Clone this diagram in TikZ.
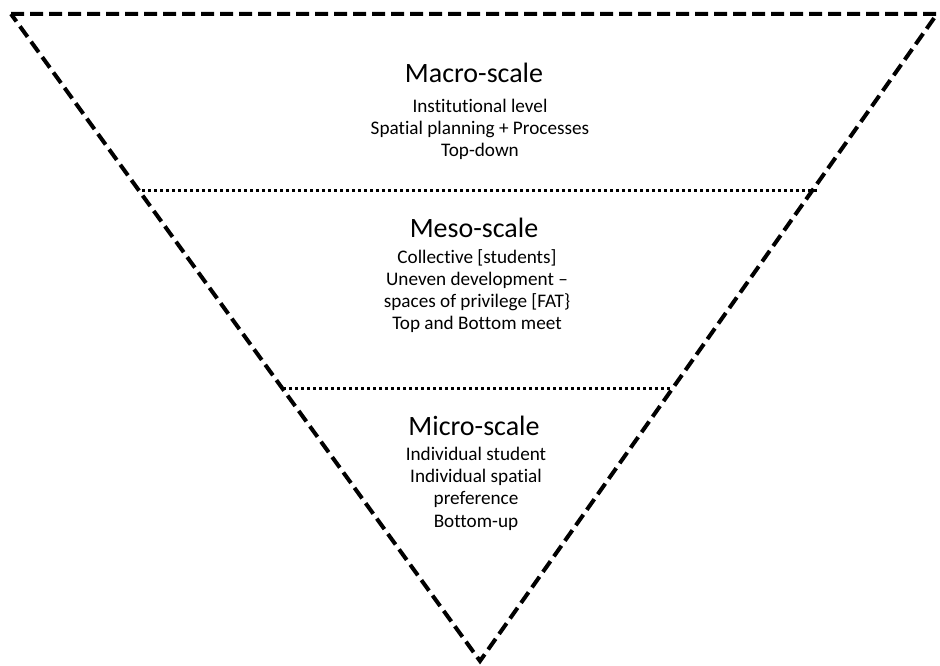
\documentclass[tikz,border=0pt]{standalone}
\usepackage{fontspec}
\setmainfont[Ligatures=NoCommon]{Carlito}
\begin{document}
\begin{tikzpicture}[x=1pt,y=-1pt,
  edge/.style={line width=4pt,dash pattern=on 13pt off 6pt},
  divider/.style={line width=3pt,dash pattern=on 3pt off 3pt},
  title/.style={font=\fontsize{28}{32}\selectfont,anchor=base},
  body/.style={font=\fontsize{19.2}{22.2}\selectfont,align=center,anchor=north,inner sep=0pt}]
\useasboundingbox (0,0) rectangle (940,666);
% corners of the inverted triangle
\coordinate (tl) at (11,14);
\coordinate (tr) at (937,14);
\coordinate (bt) at (480,661);
\draw[edge] (tl) -- (tr) -- (bt) -- cycle;
% level dividers
\coordinate (d1l) at (142,190);
\coordinate (d1r) at (818,190);
\coordinate (d2l) at (283,388);
\coordinate (d2r) at (672,388);
\draw[divider] (d1l) -- (d1r);
\draw[divider] (d2l) -- (d2r);
% macro level
\node[title] (macro) at (474,83) {Macro-scale};
\node[body] (macrotxt) at (480,99) {Institutional level\\Spatial planning + Processes\\Top-down};
% meso level
\node[title] (meso) at (474,237) {Meso-scale};
\node[body] (mesotxt) at (477,249) {Collective [students]\\Uneven development –\\spaces of privilege [FAT\}\\Top and Bottom meet};
% micro level
\node[title] (micro) at (474,435) {Micro-scale};
\node[body] (microtxt) at (476,447) {Individual student\\Individual spatial\\preference\\Bottom-up};
\end{tikzpicture}
\end{document}
